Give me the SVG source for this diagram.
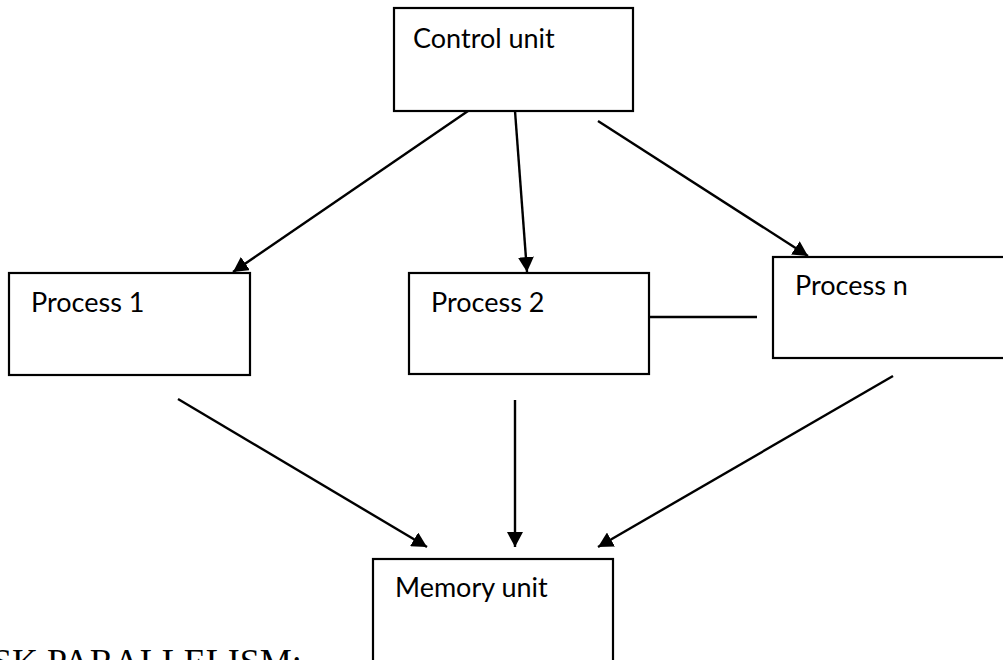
<svg xmlns="http://www.w3.org/2000/svg" width="1003" height="660" viewBox="0 0 1003 660">
  <style>
    .box { fill: #ffffff; stroke: #000000; stroke-width: 2.2; }
    .label { font-family: Lato, "Open Sans", "Liberation Sans", sans-serif; font-size: 27px; fill: #000000; }
    .edge { fill: none; stroke: #000000; stroke-width: 2.4; }
    .heading { font-family: "Liberation Serif", "Times New Roman", serif; font-size: 36px; fill: #000000; }
  </style>
  <defs>
    <marker id="arrow" markerUnits="userSpaceOnUse" markerWidth="16" markerHeight="16" refX="15" refY="8" orient="auto">
      <path d="M0,0 L15,8 L0,16 z" fill="#000000"/>
    </marker>
  </defs>
  <rect width="1003" height="660" fill="#ffffff"/>

  <g id="connectors">
    <line class="edge" x1="468" y1="111" x2="233" y2="272" marker-end="url(#arrow)"/>
    <line class="edge" x1="515" y1="111" x2="527" y2="272" marker-end="url(#arrow)"/>
    <line class="edge" x1="598" y1="121" x2="808" y2="256" marker-end="url(#arrow)"/>
    <line class="edge" x1="649" y1="317" x2="757" y2="317"/>
    <line class="edge" x1="178" y1="399" x2="427" y2="547" marker-end="url(#arrow)"/>
    <line class="edge" x1="515" y1="400" x2="515" y2="547" marker-end="url(#arrow)"/>
    <line class="edge" x1="893" y1="376" x2="598" y2="547" marker-end="url(#arrow)"/>
  </g>

  <g id="control-unit">
    <rect class="box" x="394" y="8" width="239" height="103"/>
    <text class="label" x="413" y="48">Control unit</text>
  </g>

  <g id="process-1">
    <rect class="box" x="9" y="273" width="241" height="102"/>
    <text class="label" x="31" y="312">Process 1</text>
  </g>

  <g id="process-2">
    <rect class="box" x="409" y="273" width="240" height="101"/>
    <text class="label" x="431" y="312">Process 2</text>
  </g>

  <g id="process-n">
    <rect class="box" x="773" y="257" width="232" height="101"/>
    <text class="label" x="795" y="295">Process n</text>
  </g>

  <g id="memory-unit">
    <rect class="box" x="373" y="559" width="240" height="110"/>
    <text class="label" x="395" y="597">Memory unit</text>
  </g>

  <text class="heading" x="-8" y="674">SK PARALLELISM:</text>
</svg>
